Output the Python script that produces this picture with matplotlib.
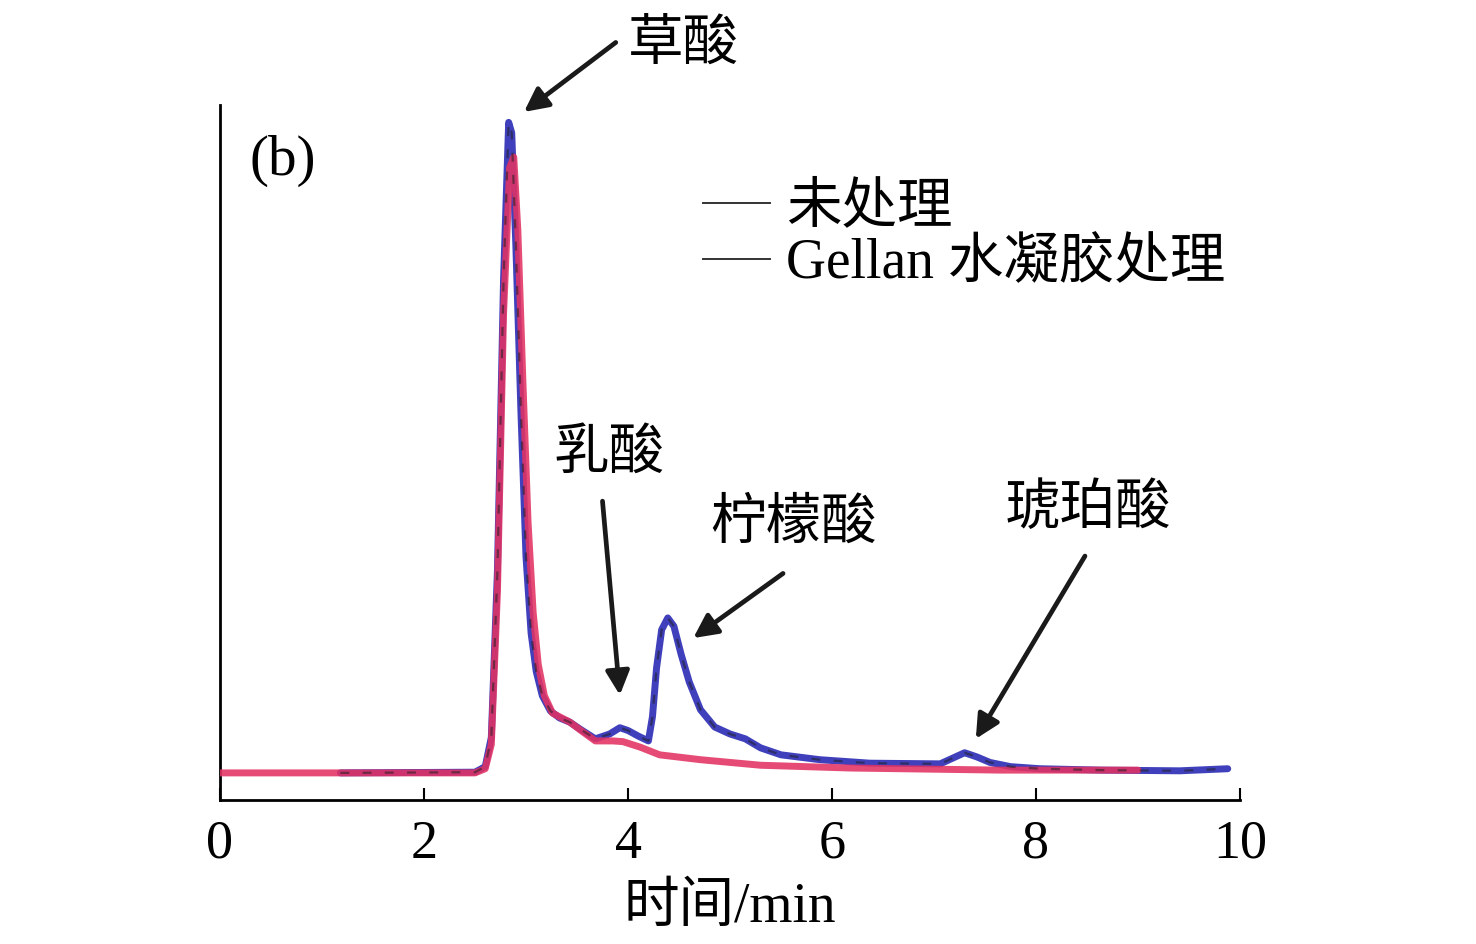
import numpy as np
import matplotlib
matplotlib.use("Agg")
import matplotlib.pyplot as plt
from matplotlib.lines import Line2D

plt.rcParams['font.family'] = ['Liberation Serif', 'Noto Sans CJK SC', 'DejaVu Sans']

# Gellan-treated curve (blue): time (min), relative signal
t_gel = [1.18, 2.50, 2.60, 2.66, 2.72, 2.78, 2.83, 2.86, 2.90, 2.95, 3.00, 3.05, 3.10,
         3.16, 3.24, 3.33, 3.43, 3.53, 3.68, 3.82, 3.92, 4.00, 4.10, 4.20, 4.24, 4.28,
         4.33, 4.39, 4.45, 4.52, 4.60, 4.71, 4.85, 5.00, 5.15, 5.30, 5.50, 5.88, 6.37,
         7.06, 7.18, 7.30, 7.42, 7.55, 7.75, 8.04, 8.63, 9.41, 9.88]
s_gel = [0.039, 0.040, 0.048, 0.090, 0.330, 0.750, 0.975, 0.960, 0.800, 0.560, 0.350,
         0.240, 0.185, 0.150, 0.128, 0.118, 0.112, 0.102, 0.088, 0.095, 0.104, 0.100,
         0.092, 0.085, 0.120, 0.190, 0.245, 0.262, 0.250, 0.210, 0.170, 0.130, 0.105,
         0.095, 0.088, 0.075, 0.065, 0.058, 0.053, 0.052, 0.060, 0.068, 0.062, 0.054,
         0.048, 0.045, 0.043, 0.042, 0.045]

# untreated curve (red)
t_raw = [0.0, 2.50, 2.60, 2.66, 2.72, 2.78, 2.84, 2.88, 2.92, 2.97, 3.02, 3.07, 3.12,
         3.18, 3.26, 3.43, 3.53, 3.68, 3.85, 3.95, 4.12, 4.31, 4.71, 5.30, 6.18, 7.65,
         9.00]
s_raw = [0.039, 0.039, 0.045, 0.080, 0.300, 0.700, 0.910, 0.925, 0.820, 0.600, 0.400,
         0.270, 0.195, 0.150, 0.125, 0.112, 0.101, 0.085, 0.085, 0.084, 0.076, 0.065,
         0.058, 0.050, 0.046, 0.043, 0.043]

series_labels = ['未处理', 'Gellan 水凝胶处理']

# peak labels: name, text position, arrow tip, arrow tail
peaks = [('草酸', (4.54, 1.086), (2.98, 0.990), (3.88, 1.090)),
         ('乳酸', (3.81, 0.497), (3.92, 0.151), (3.75, 0.430)),
         ('柠檬酸', (5.62, 0.396), (4.64, 0.233), (5.52, 0.326)),
         ('琥珀酸', (8.51, 0.417), (7.41, 0.088), (8.48, 0.351))]

fig = plt.figure(figsize=(14.76, 9.44), dpi=100)
ax = fig.add_axes([220 / 1476, 144 / 944, 1020 / 1476, 695 / 944])

ax.plot(t_gel, s_gel, color='#4040bc', lw=5.0, solid_capstyle='round',
        solid_joinstyle='round', zorder=3)
ax.plot(t_raw, s_raw, color='#e23262', lw=5.0, alpha=0.88, solid_capstyle='round',
        solid_joinstyle='round', zorder=4)
ax.plot(t_gel, s_gel, color='#202020', lw=1.6, ls=(0, (4, 6)), alpha=0.55, zorder=5)

ax.set_xlim(0, 10)
ax.set_ylim(0, 1)
ax.set_xticks(np.arange(0, 11, 2))
ax.set_yticks([])
ax.tick_params(axis='x', direction='in', length=9, width=1.5, labelsize=39, pad=14)
for sp in ['top', 'right']:
    ax.spines[sp].set_visible(False)
for sp in ['left', 'bottom']:
    ax.spines[sp].set_linewidth(2.0)
ax.set_xlabel('时间/min', fontsize=40, labelpad=9)

ax.text(0.029, 0.92, '(b)', transform=ax.transAxes, fontsize=41, ha='left', va='center')

for name, txt, tip, tail in peaks:
    ax.text(txt[0], txt[1], name, fontsize=40, ha='center', va='center', clip_on=False)
    ax.annotate('', xy=tip, xytext=tail, annotation_clip=False,
                arrowprops=dict(arrowstyle='-|>', lw=3.4, color='#1a1a1a',
                                mutation_scale=36, shrinkA=0, shrinkB=0))

handles = [Line2D([0], [0], color='#333333', lw=1.4),
           Line2D([0], [0], color='#333333', lw=1.4)]
fig.legend(handles, series_labels, loc='upper left', bbox_to_anchor=(703 / 1476, 1 - 182 / 944),
           frameon=False, fontsize=40, handlelength=1.2, handletextpad=0.3,
           labelspacing=0.08, borderpad=0, borderaxespad=0)

fig.savefig('out.png', dpi=100, facecolor='white')
